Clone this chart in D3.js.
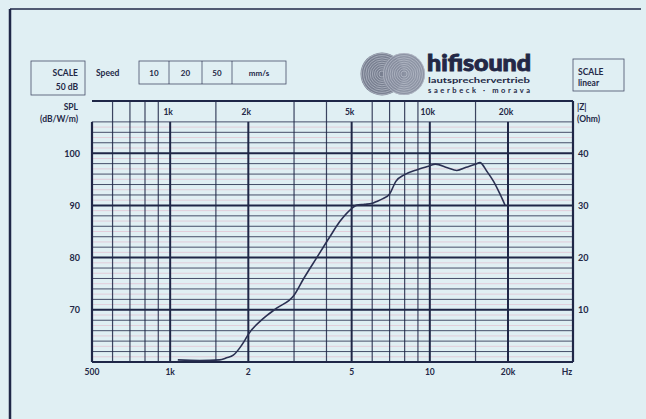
<!DOCTYPE html>
<html>
<head>
<meta charset="utf-8">
<script src="https://cdn.jsdelivr.net/npm/d3@7"></script>
<style>
  body { margin: 0; background: #e0eff3; }
  svg text { font-family: "Lato", "DejaVu Sans", sans-serif; font-weight: 700; fill: #232846; }
</style>
</head>
<body>
<div id="chart"></div>
<script>

var freqHz = [1070, 1300, 1550, 1650, 1750, 1860, 1930, 2000, 2280, 2570, 3000, 3260, 3670, 4110, 4500, 5000, 5200, 5600,
    6000, 6200, 6600, 7000, 7400, 8000, 9000, 10000, 10500, 11700, 12700, 13800, 15000, 15600, 16600, 17600, 18700, 19500];
var splDb = [60.4, 60.3, 60.4, 60.8, 61.3, 62.8, 64.0, 65.3, 68.3, 70.3, 72.8, 75.9, 80.0, 83.9, 86.9, 89.4, 90.0, 90.2,
    90.4, 90.7, 91.3, 92.2, 94.6, 95.9, 96.9, 97.6, 97.9, 97.2, 96.7, 97.3, 97.9, 98.2, 96.5, 94.6, 92.0, 90.0];

// paper grid
var freqDomain = [500, 35600];
var majorFreqs = [1000, 2000, 5000, 10000, 20000];
var minorFreqs = [600, 700, 800, 900, 1500, 3000, 4000, 6000, 7000, 8000, 9000, 15000];
var topLabels = ["1k", "2k", "5k", "10k", "20k"];
var bottomFreqs = [500, 1000, 2000, 5000, 10000, 20000];
var bottomLabels = ["500", "1k", "2", "5", "10", "20k"];
var dbDomain = [60, 110];
var dbMajor = [70, 80, 90, 100];
var dbMinor = [62, 64, 66, 68, 72, 74, 76, 78, 82, 84, 86, 88, 92, 94, 96, 98, 102, 104, 106];
var ohmDomain = [0, 50];
var ohmTicks = [10, 20, 30, 40];
var speedLabels = ["10", "20", "50", "mm/s"];


ResponseChart = function(_parentElement){
    this.parentElement = _parentElement;
    this.initVis();
}

ResponseChart.prototype.initVis = function(){
    var vis = this;

    vis.width = 646;
    vis.height = 419;

    vis.svg = d3.select("#" + vis.parentElement).append("svg")
        .attr("width", vis.width)
        .attr("height", vis.height);

    vis.x = d3.scaleLog().domain(freqDomain).range([92, 573]);
    vis.y = d3.scaleLinear().domain(dbDomain).range([362, 101]);
    vis.z = d3.scaleLinear().domain(ohmDomain).range([362, 101]);

    vis.ink = "#1f2747";

    // outer frame of the sheet
    vis.svg.append("line").attr("x1", 10).attr("x2", 10).attr("y1", 9).attr("y2", 419)
        .attr("stroke", vis.ink).attr("stroke-width", 2.5);
    vis.svg.append("line").attr("x1", 10).attr("x2", 641).attr("y1", 9).attr("y2", 9)
        .attr("stroke", vis.ink).attr("stroke-width", 1.5);

    vis.drawGrid();
    vis.drawHeader();
    vis.updateVis();
}

ResponseChart.prototype.drawGrid = function(){
    var vis = this;
    var g = vis.svg.append("g").attr("class", "grid");
    var x0 = vis.x(freqDomain[0]), x1 = vis.x(freqDomain[1]);

    // faint pink odd dB lines
    g.selectAll(".pink").data(d3.range(61, 106, 2))
        .enter().append("line")
        .attr("x1", x0).attr("x2", x1)
        .attr("y1", d => vis.y(d)).attr("y2", d => vis.y(d))
        .attr("stroke", "#e2a9bf").attr("stroke-width", 0.8).attr("opacity", 0.6);

    g.selectAll(".hmin").data(dbMinor)
        .enter().append("line")
        .attr("x1", x0).attr("x2", x1)
        .attr("y1", d => vis.y(d)).attr("y2", d => vis.y(d))
        .attr("stroke", vis.ink).attr("stroke-width", 1).attr("opacity", 0.8);

    g.selectAll(".hmaj").data(dbMajor)
        .enter().append("line")
        .attr("x1", x0).attr("x2", x1)
        .attr("y1", d => vis.y(d)).attr("y2", d => vis.y(d))
        .attr("stroke", vis.ink).attr("stroke-width", 2);

    g.selectAll(".vmin").data(minorFreqs)
        .enter().append("line")
        .attr("x1", d => vis.x(d)).attr("x2", d => vis.x(d))
        .attr("y1", vis.y(110)).attr("y2", vis.y(60))
        .attr("stroke", vis.ink).attr("stroke-width", 1.2).attr("opacity", 0.85);

    g.selectAll(".vmaj").data(majorFreqs)
        .enter().append("line")
        .attr("x1", d => vis.x(d)).attr("x2", d => vis.x(d))
        .attr("y1", vis.y(106)).attr("y2", vis.y(60))
        .attr("stroke", vis.ink).attr("stroke-width", 2);

    // borders
    g.append("line").attr("x1", x0).attr("x2", x1).attr("y1", vis.y(110)).attr("y2", vis.y(110))
        .attr("stroke", vis.ink).attr("stroke-width", 2.2);
    g.append("line").attr("x1", x0).attr("x2", x1).attr("y1", vis.y(60)).attr("y2", vis.y(60))
        .attr("stroke", vis.ink).attr("stroke-width", 2.2);
    g.append("line").attr("x1", x0).attr("x2", x0).attr("y1", vis.y(106)).attr("y2", vis.y(60))
        .attr("stroke", vis.ink).attr("stroke-width", 2.2);
    g.append("line").attr("x1", x1).attr("x2", x1).attr("y1", vis.y(110)).attr("y2", vis.y(60))
        .attr("stroke", vis.ink).attr("stroke-width", 2.2);

    // frequency labels in the header row
    g.selectAll(".ftop").data(majorFreqs)
        .enter().append("text")
        .attr("x", d => vis.x(d) - 2)
        .attr("y", 115)
        .attr("text-anchor", "middle")
        .style("font-size", "8.5px")
        .text((d, i) => topLabels[i]);

    // frequency labels below
    g.selectAll(".fbot").data(bottomFreqs)
        .enter().append("text")
        .attr("x", d => vis.x(d))
        .attr("y", 375)
        .attr("text-anchor", "middle")
        .style("font-size", "8.5px")
        .text((d, i) => bottomLabels[i]);
    g.append("text").attr("x", x1 - 6).attr("y", 375).attr("text-anchor", "middle")
        .style("font-size", "8.5px").text("Hz");

    // SPL axis (left) and impedance axis (right)
    g.selectAll(".dbl").data(dbMajor)
        .enter().append("text")
        .attr("x", 80)
        .attr("y", d => vis.y(d) + 3.5)
        .attr("text-anchor", "end")
        .style("font-size", "9px")
        .text(d => d);

    g.selectAll(".ohm").data(ohmTicks)
        .enter().append("text")
        .attr("x", 578)
        .attr("y", d => vis.z(d) + 3.5)
        .style("font-size", "9px")
        .text(d => d);

    g.append("text").attr("x", 78).attr("y", 110).attr("text-anchor", "end")
        .style("font-size", "8.5px").text("SPL");
    g.append("text").attr("x", 78).attr("y", 122).attr("text-anchor", "end")
        .style("font-size", "8.5px").text("(dB/W/m)");
    g.append("text").attr("x", 577).attr("y", 110)
        .style("font-size", "8.5px").text("|Z|");
    g.append("text").attr("x", 577).attr("y", 122)
        .style("font-size", "8.5px").text("(Ohm)");
}

ResponseChart.prototype.drawHeader = function(){
    var vis = this;
    var h = vis.svg.append("g").attr("class", "header");

    // SCALE 50 dB box
    h.append("rect").attr("x", 31).attr("y", 61).attr("width", 54).attr("height", 34)
        .attr("fill", "none").attr("stroke", vis.ink).attr("stroke-width", 0.8).attr("opacity", 0.8);
    h.append("text").attr("x", 78).attr("y", 76).attr("text-anchor", "end")
        .style("font-size", "8.5px").text("SCALE");
    h.append("text").attr("x", 78).attr("y", 90).attr("text-anchor", "end")
        .style("font-size", "8.5px").text("50 dB");

    // paper speed
    h.append("text").attr("x", 96).attr("y", 76)
        .style("font-size", "8.5px").text("Speed");
    var cells = [139, 169, 202, 232, 286];
    h.append("rect").attr("x", cells[0]).attr("y", 61).attr("width", cells[4] - cells[0]).attr("height", 23)
        .attr("fill", "none").attr("stroke", vis.ink).attr("stroke-width", 0.8).attr("opacity", 0.8);
    h.selectAll(".div").data(cells.slice(1, 4))
        .enter().append("line")
        .attr("x1", d => d).attr("x2", d => d).attr("y1", 61).attr("y2", 84)
        .attr("stroke", vis.ink).attr("stroke-width", 0.8).attr("opacity", 0.8);
    h.selectAll(".spd").data(speedLabels)
        .enter().append("text")
        .attr("x", (d, i) => (cells[i] + cells[i + 1]) / 2)
        .attr("y", 76)
        .attr("text-anchor", "middle")
        .style("font-size", "8px")
        .text(d => d);

    // SCALE linear box
    h.append("rect").attr("x", 573).attr("y", 59).attr("width", 51).attr("height", 32)
        .attr("fill", "none").attr("stroke", vis.ink).attr("stroke-width", 0.8).attr("opacity", 0.8);
    h.append("text").attr("x", 578).attr("y", 75)
        .style("font-size", "8.5px").text("SCALE");
    h.append("text").attr("x", 578).attr("y", 86)
        .style("font-size", "8.5px").text("linear");

    // logo: two ringed discs
    var discs = [{cx: 382, cy: 74, r: 21.5, c: "#6f7588"}, {cx: 404, cy: 74, r: 21, c: "#868c9d"}];
    discs.forEach(function(d){
        h.append("circle").attr("cx", d.cx).attr("cy", d.cy).attr("r", d.r)
            .attr("fill", d.c).attr("opacity", 0.92);
        h.selectAll(null).data(d3.range(3, d.r, 2.2))
            .enter().append("circle")
            .attr("cx", d.cx).attr("cy", d.cy).attr("r", r => r)
            .attr("fill", "none").attr("stroke", "#c3c8d3").attr("stroke-width", 0.6);
    });

    h.append("text").attr("x", 427).attr("y", 71)
        .attr("textLength", 104).attr("lengthAdjust", "spacingAndGlyphs")
        .style("font-size", "22px").style("font-weight", 900)
        .style("stroke", "#232846").style("stroke-width", "0.9px")
        .text("hifisound");
    h.append("text").attr("x", 428).attr("y", 83)
        .attr("textLength", 102).attr("lengthAdjust", "spacingAndGlyphs")
        .style("font-size", "7.5px").text("lautsprechervertrieb");
    h.append("text").attr("x", 428).attr("y", 93)
        .attr("textLength", 102).attr("lengthAdjust", "spacing")
        .style("font-size", "7.5px").text("saerbeck  ·  morava");
}

ResponseChart.prototype.updateVis = function(){
    var vis = this;

    var pts = freqHz.map((f, i) => [f, splDb[i]]);

    var line = d3.line()
        .x(d => vis.x(d[0]))
        .y(d => vis.y(d[1]))
        .curve(d3.curveMonotoneX);

    vis.svg.append("path")
        .datum(pts)
        .attr("fill", "none")
        .attr("stroke", "#2a3052")
        .attr("stroke-width", 1.6)
        .attr("d", line);
}

var chart = new ResponseChart("chart");

</script>
</body>
</html>
